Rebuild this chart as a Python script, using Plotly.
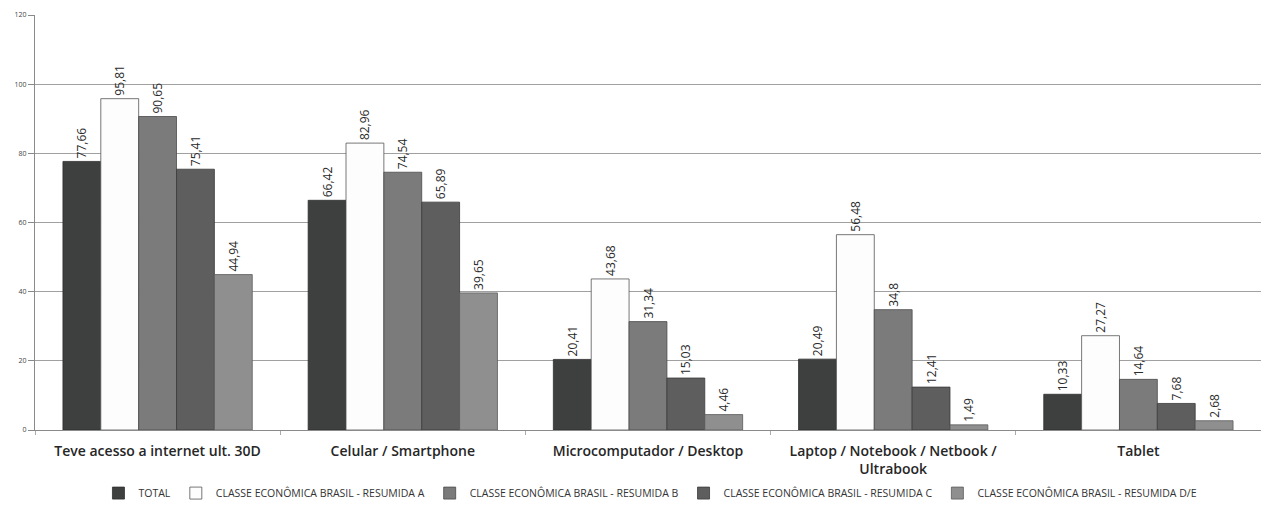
import plotly.graph_objects as go

categories = [
    "Teve acesso a internet ult. 30D",
    "Celular / Smartphone",
    "Microcomputador / Desktop",
    "Laptop / Notebook / Netbook /<br>Ultrabook",
    "Tablet",
]

series_names = [
    "TOTAL",
    "CLASSE ECONÔMICA BRASIL - RESUMIDA A",
    "CLASSE ECONÔMICA BRASIL - RESUMIDA B",
    "CLASSE ECONÔMICA BRASIL - RESUMIDA C",
    "CLASSE ECONÔMICA BRASIL - RESUMIDA D/E",
]

total = [77.66, 66.42, 20.41, 20.49, 10.33]
classe_a = [95.81, 82.96, 43.68, 56.48, 27.27]
classe_b = [90.65, 74.54, 31.34, 34.8, 14.64]
classe_c = [75.41, 65.89, 15.03, 12.41, 7.68]
classe_de = [44.94, 39.65, 4.46, 1.49, 2.68]

y_ticks = [0, 20, 40, 60, 80, 100, 120]

series_values = [total, classe_a, classe_b, classe_c, classe_de]
fill_colors = ["#3d403f", "#fdfdfd", "#7b7b7b", "#5e5e5e", "#8f8f8f"]
line_colors = ["#2e2e2e", "#555555", "#4a4a4a", "#3a3a3a", "#5a5a5a"]

FONT = "Open Sans, Lato, sans-serif"


def fmt(v):
    return f"{v:g}".replace(".", ",")


fig = go.Figure()
for name, vals, fc, lc in zip(series_names, series_values, fill_colors, line_colors):
    fig.add_trace(go.Bar(
        name=name,
        x=categories,
        y=vals,
        text=[fmt(v) for v in vals],
        textposition="outside",
        textangle=-90,
        constraintext="none",
        cliponaxis=False,
        textfont=dict(family=FONT, size=12, color="#2a2a2a"),
        marker=dict(color=fc, line=dict(color=lc, width=0.8)),
    ))

fig.update_layout(
    width=1261,
    height=508,
    barmode="group",
    bargap=0.228,
    bargroupgap=0,
    paper_bgcolor="white",
    plot_bgcolor="white",
    margin=dict(l=35, r=0, t=15, b=78, autoexpand=False),
    font=dict(family=FONT, color="#222222"),
    legend=dict(
        orientation="h",
        x=0.502,
        xanchor="center",
        y=-0.152,
        yanchor="middle",
        font=dict(size=10.5, color="#333333"),
        itemwidth=30,
        tracegroupgap=0,
        traceorder="normal",
    ),
    showlegend=True,
)

fig.update_xaxes(
    automargin=False,
    showline=True,
    linecolor="#8a8a8a",
    linewidth=1,
    ticks="outside",
    tickson="boundaries",
    ticklen=4,
    tickcolor="#aaaaaa",
    ticklabelstandoff=8,
    tickfont=dict(size=14, color="#262626", family=FONT, weight=600),
    showgrid=False,
)

fig.update_yaxes(
    automargin=False,
    range=[0, 120],
    tickvals=y_ticks,
    ticks="outside",
    ticklen=6,
    tickcolor="#888888",
    tickfont=dict(size=7, color="#444444"),
    showline=True,
    linecolor="#8a8a8a",
    linewidth=1,
    showgrid=True,
    gridcolor="#a0a0a0",
    gridwidth=1,
    zeroline=False,
)

fig.write_html("out.html")
